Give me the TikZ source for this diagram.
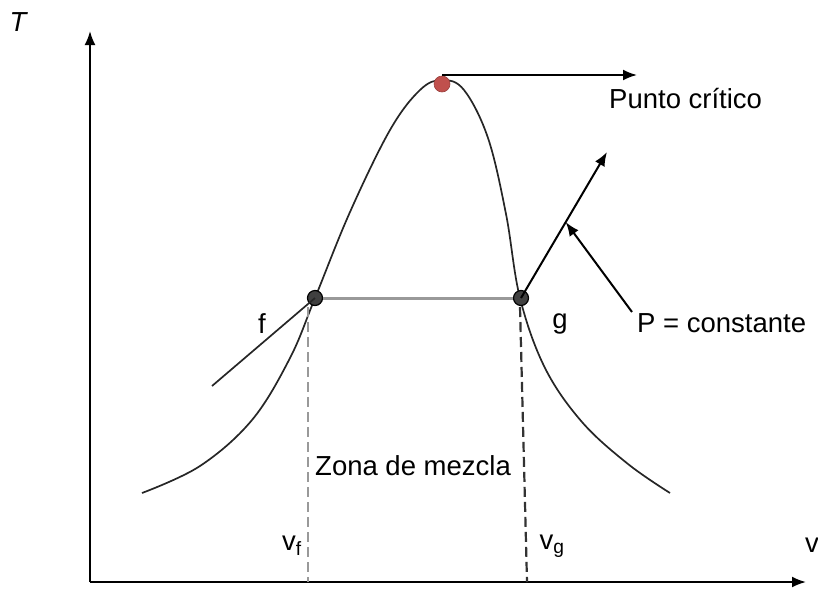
\documentclass[tikz,border=0pt]{standalone}
\usepackage{fontspec}
\setmainfont{Liberation Sans}
\usetikzlibrary{arrows.meta,calc}
\definecolor{critred}{HTML}{C0504D}
\begin{document}
\begin{tikzpicture}[x=1pt,y=-1pt,
  lbl/.style={inner sep=0pt,font=\fontsize{27.5}{32}\selectfont},
  curve/.style={line width=1.7pt,black!85},
  arr/.style={line width=2pt,-{Latex[length=14pt,width=11pt]}},
  dotnode/.style={circle,inner sep=0pt,minimum size=15pt,draw=black,line width=1.2pt,fill=black!75},
  vdash/.style={line width=2.2pt,dash pattern=on 10pt off 5pt}]
\useasboundingbox (0,0) rectangle (818,590);
% axes
\coordinate (O) at (90,582);
\coordinate (ytip) at (90,31);
\coordinate (xtip) at (806,582);
\draw[arr] (O) -- (ytip);
\draw[arr] (O) -- (xtip);
\node[lbl,font=\fontsize{27.5}{32}\selectfont\itshape] (T) at (18,22) {T};
\node[lbl] (v) at (812,545) {v};
% saturation dome
\draw[curve] plot[smooth,tension=0.6] coordinates {
 (142,493) (200,466) (252,420) (290,358) (315,298) (350,212) (390,130) (420,90) (442,80)
 (464,90) (488,138) (506,214) (520,298) (545,368) (582,422) (628,464) (670,493)};
% points
\node[dotnode] (f) at (315,298) {};
\node[dotnode] (g) at (521,298) {};
\node[circle,inner sep=0pt,minimum size=16pt,fill=critred,draw=critred!80!black,line width=0.6pt] (crit) at (442,84) {};
% constant pressure line
\draw[line width=3pt,black!40] (f) -- (g);
\coordinate (ftail) at (212,386);
\draw[curve] (f.center) -- (ftail);
\coordinate (gtip) at (607,152);
\draw[arr] (g.center) -- (gtip);
% dashed verticals
\coordinate (vfb) at (308,582);
\coordinate (vgb) at (527,582);
\draw[vdash,black!40] (308,307) -- (vfb);
\draw[vdash,black!80] (520,307) -- (vgb);
% critical point arrow
\coordinate (crtip) at (637,75);
\coordinate (crstart) at (442,75);
\draw[arr] (crstart) -- (crtip);
% labels
\node[lbl,anchor=west] (pc) at (609,99) {Punto crítico};
\node[lbl,anchor=west] (pconst) at (637,323) {P = constante};
\coordinate (pstart) at (632,312);
\draw[arr] (pstart) -- ($(g.center)!0.52!(gtip)$);
\node[lbl] (flab) at (262,324) {f};
\node[lbl] (glab) at (560,324) {g};
\node[lbl,anchor=west] (zona) at (315,466) {Zona de mezcla};
\node[lbl] (vf) at (292,546) {v\textsubscript{f}};
\node[lbl] (vg) at (552,546) {v\textsubscript{g}};
\end{tikzpicture}
\end{document}
